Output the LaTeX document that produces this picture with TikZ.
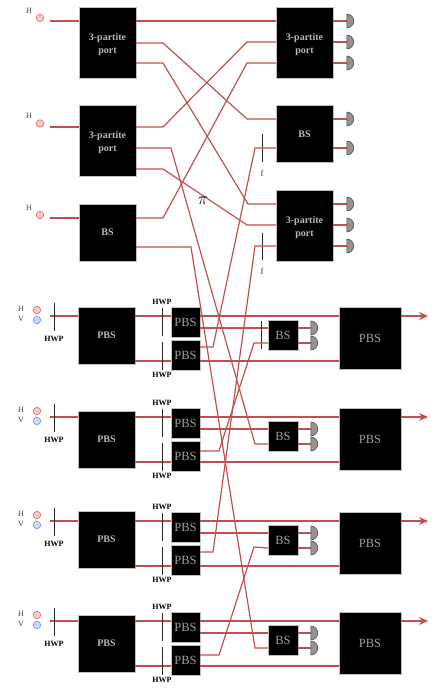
\documentclass[tikz,border=0pt]{standalone}
\usepackage{fontspec}
\setmainfont{Liberation Serif}
\usetikzlibrary{shapes.geometric,arrows.meta,calc}
\definecolor{beamred}{RGB}{192,80,77}
\definecolor{hotpink}{RGB}{244,204,204}
\definecolor{hotline}{RGB}{216,110,110}
\definecolor{coldblue}{RGB}{201,218,248}
\definecolor{coldline}{RGB}{110,150,220}
\definecolor{boxgray}{RGB}{185,185,185}
\definecolor{thingray}{RGB}{160,160,160}
\newcommand{\tripart}{\rule{0pt}{11pt}3-partite\\port}
\tikzset{
  beam/.style={draw=beamred, line width=1.2pt},
  blk/.style={fill=black, draw=gray!50, line width=0.4pt, inner sep=0pt, align=center},
  bigblk/.style={blk, text=boxgray, font=\bfseries\fontsize{10}{13}\selectfont, minimum width=57, minimum height=57},
  thinblk/.style={blk, text=thingray, font=\fontsize{12.5}{14}\selectfont},
  smallpbs/.style={thinblk, minimum width=29, minimum height=30},
  smallbs/.style={thinblk, minimum width=30, minimum height=30},
  outpbs/.style={thinblk, minimum width=62, minimum height=62},
  det/.style={shape=semicircle, shape border rotate=270, fill=gray!85, draw=black!75, line width=0.5pt, inner sep=0pt, minimum width=14, minimum height=7, anchor=chord center},
  hdot/.style={circle, fill=hotpink, draw=hotline, line width=0.6pt, inner sep=0pt, minimum size=7.5},
  vdot/.style={circle, fill=coldblue, draw=coldline, line width=0.6pt, inner sep=0pt, minimum size=7.5},
  lbl/.style={inner sep=0pt, text=black!75, font=\fontsize{8}{9}\selectfont},
  hwplbl/.style={inner sep=0pt, font=\bfseries\fontsize{8}{9}\selectfont},
  plate/.style={draw=black!85, line width=0.7pt},
}

\begin{document}
\begin{tikzpicture}[x=1pt, y=-1pt]
\useasboundingbox (0,0) rectangle (436,693);

% upper stage
\node[bigblk, minimum height=71] (pa) at (107.5,42.5) {\tripart};
\node[bigblk, minimum height=71] (pb) at (107.5,141) {\tripart};
\node[bigblk] (bsa) at (107.5,232.5) {BS};
\node[bigblk, minimum height=71] (pc) at (304.5,42.5) {\tripart};
\node[bigblk] (bsb) at (304.5,134) {BS};
\node[bigblk, minimum height=71] (pd) at (304.5,225.5) {\tripart};

\foreach \n/\b/\y in {a/pa/21, b/pb/127, c/bsa/218} {
  \coordinate (in\n) at (50,\y);
  \draw[beam] (in\n) -- (\b.west |- in\n);
}
\node[hdot] (ha) at (40,18) {};
\node[hdot] (hb) at (40,123.5) {};
\node[hdot] (hc) at (40,215) {};
\node[lbl] (la) at (29,11) {H};
\node[lbl] (lb) at (29,116) {H};
\node[lbl] (lc) at (29,208) {H};

% detectors of the upper stage
\foreach \n/\b/\y in {a/pc/21, b/pc/42, c/pc/63, d/bsb/119, e/bsb/148, f/pd/204, g/pd/225, h/pd/246} {
  \draw[beam] (\b.east |- 0,\y) -- (347,\y);
  \node[det] (det\n) at (346.5,\y) {};
}

% upper crossings
\draw[beam] (pa.east |- 0,21) -- (pc.west |- 0,21);
\draw[beam] (pa.east |- 0,43) -- (163,43) -- (247,119) -- (bsb.west |- 0,119);
\draw[beam] (pa.east |- 0,63) -- (163,63) -- (248,204) -- (pd.west |- 0,204);
\draw[beam] (pb.east |- 0,127) -- (163,127) -- (247,42) -- (pc.west |- 0,42);
\draw[beam] (pb.east |- 0,169) -- (163,169) -- (247,225) -- (pd.west |- 0,225);
\draw[beam] (bsa.east |- 0,218) -- (163,218) -- (247,63) -- (pc.west |- 0,63);

% f plates
\draw[plate] (262,134) -- (262,162);
\draw[plate] (262,232.5) -- (262,260);
\node[lbl, font=\fontsize{9}{10}\selectfont] (fa) at (262,173) {f};
\node[lbl, font=\fontsize{9}{10}\selectfont] (fb) at (262,271) {f};
\node[inner sep=0pt, font=\fontsize{17}{18}\selectfont] (pi) at (203,201) {$\pi$};

% lower stage, one row at a time
\foreach \r/\y/\t/\o in {1/316/307/31, 2/417/411/34, 3/521/511/31, 4/621/615/34} {
  \node[bigblk] (pbs\r) at (106.5,\t+28.5) {PBS};
  \node[smallpbs] (su\r) at (185.5,\y+6) {PBS};
  \node[smallpbs] (sl\r) at (185.5,\y+39.5) {PBS};
  \node[smallbs] (bs\r) at (283,\y+19.5) {BS};
  \node[outpbs] (out\r) at (370,\y+22) {PBS};
  \node[hdot] (h\r) at (37,\y-6) {};
  \node[vdot] (v\r) at (37,\y+4) {};
  \node[lbl] (hl\r) at (21,\y-7) {H};
  \node[lbl] (vl\r) at (21,\y+3) {V};
  \coordinate (src\r) at (50,\y);
  \coordinate (end\r) at (428,\y);
  \coordinate (xo\r) at (200,\y+\o);
  \coordinate (bin\r) at (268,\y+27);
  \draw[beam] (src\r) -- (pbs\r.west |- src\r);
  \draw[beam] (pbs\r.east |- src\r) -- (su\r.west |- src\r);
  \draw[beam] (su\r.east |- src\r) -- (out\r.west |- src\r);
  \draw[beam] (pbs\r.east |- 0,\y+45) -- (sl\r.west |- 0,\y+45);
  \draw[beam] (sl\r.east |- 0,\y+45) -- (out\r.west |- 0,\y+45);
  \draw[beam] (su\r.east |- 0,\y+12) -- (bs\r.west |- 0,\y+12);
  \draw[beam, -{Stealth[length=9pt,width=8pt]}] (out\r.east |- src\r) -- (end\r);
  \draw[beam] (bs\r.east |- 0,\y+12) -- (311,\y+12);
  \draw[beam] (bs\r.east |- 0,\y+27) -- (311,\y+27);
  \node[det] (dta\r) at (310.5,\y+12) {};
  \node[det] (dtb\r) at (310.5,\y+27) {};
  \draw[plate] (54,\y-13) -- (54,\y+15);
  \draw[plate] (162,\y-8) -- (162,\y+20);
  \draw[plate] (162,\y+26) -- (162,\y+54);
  \node[hwplbl] (wa\r) at (54,\y+23) {HWP};
  \node[hwplbl] (wb\r) at (162,\y-14) {HWP};
  \node[hwplbl] (wc\r) at (162,\y+59) {HWP};
}
\draw[plate] (261,321) -- (261,349);

% long crossings down to the lower stage
\draw[beam] (pb.east |- 0,148) -- (171,148) -- (255,444) -- (bin2);
\draw[beam] (bsa.east |- 0,247) -- (191,247) -- (255,648) -- (bin4);
\draw[beam] (xo1) -- (213,347) -- (255,148) -- (bsb.west |- 0,148);
\draw[beam] (xo3) -- (213,552) -- (255,246) -- (pd.west |- 0,246);
\draw[beam] (xo2) -- (219,451) -- (254,343) -- (bin1);
\draw[beam] (xo4) -- (219,655) -- (254,547) -- (bin3);
\end{tikzpicture}
\end{document}
